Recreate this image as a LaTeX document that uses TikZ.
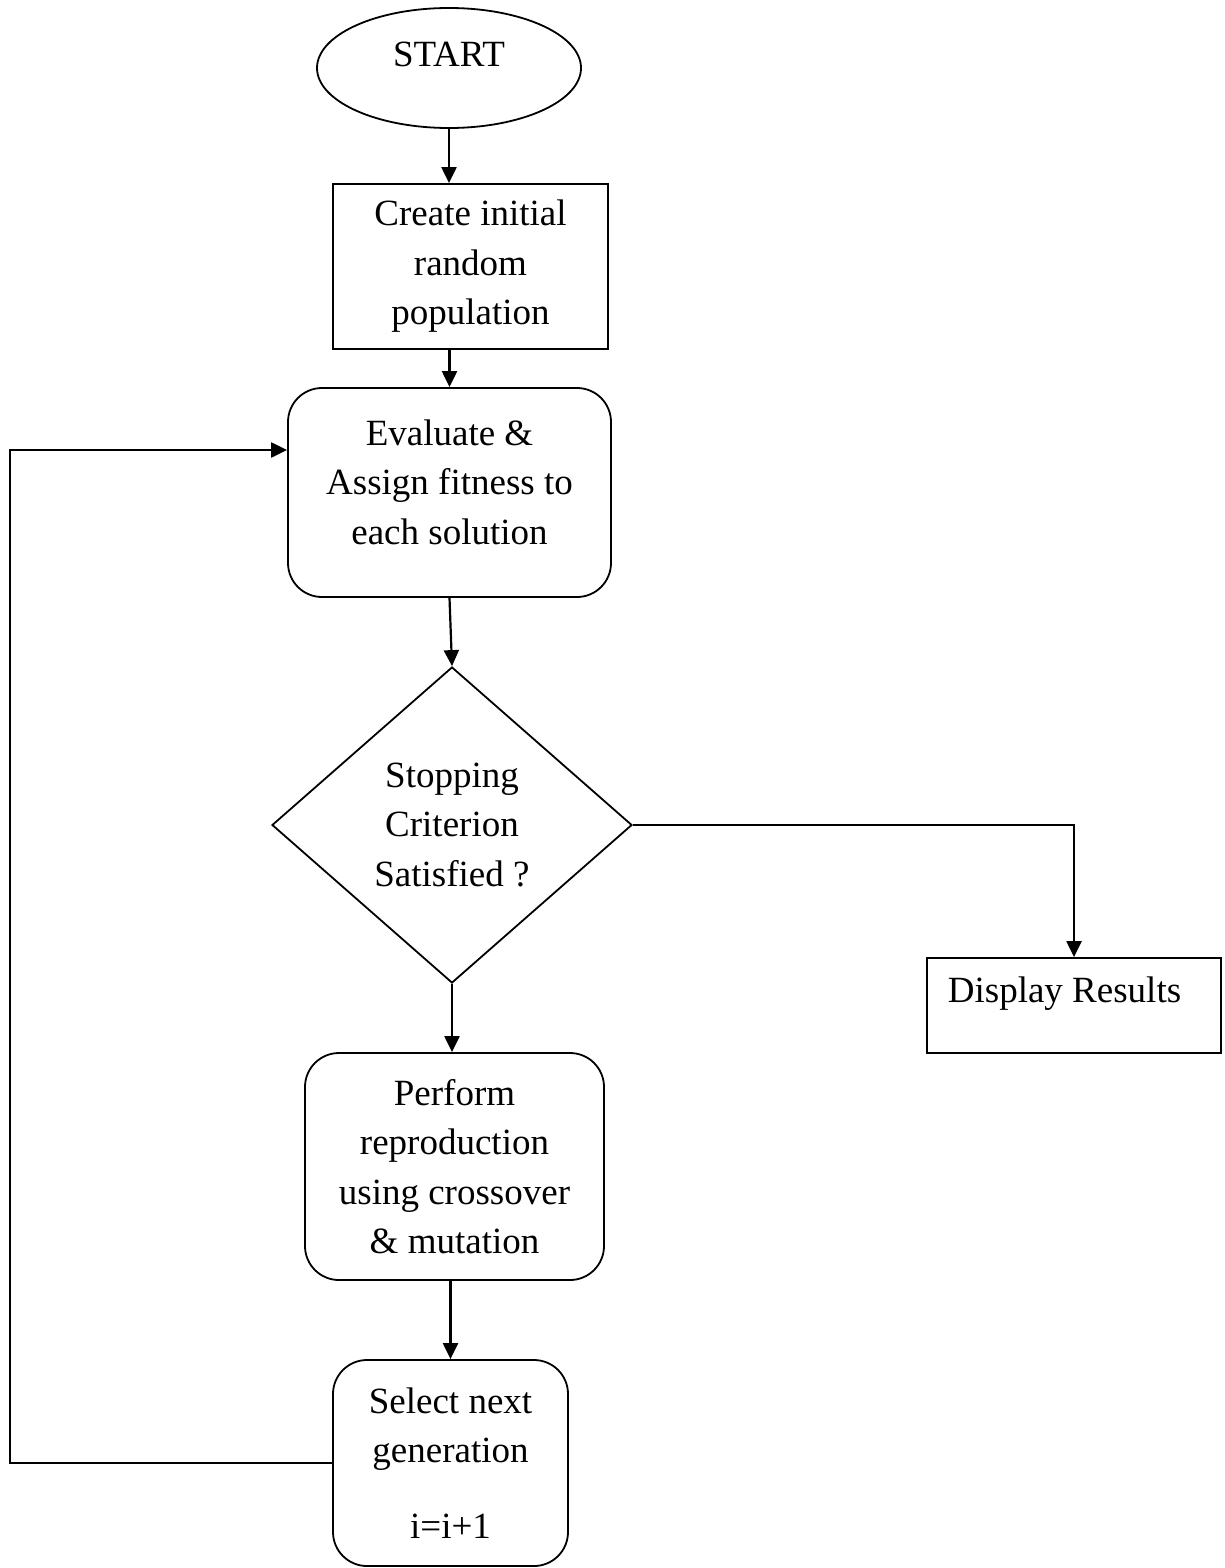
\documentclass[tikz,border=0pt]{standalone}
\usepackage{fontspec}
\setmainfont{Liberation Serif}
\usetikzlibrary{shapes.geometric,arrows.meta}

\tikzset{
  box/.style={draw,line width=0.9pt,align=center,inner sep=0pt},
  rbox/.style={box,rounded corners=17pt},
  arr/.style={line width=1.1pt,-{Triangle[length=8pt,width=7.5pt]}}
}

\begin{document}
\begin{tikzpicture}[x=0.5pt,y=-0.5pt,font=\fontsize{18.5}{24.75}\selectfont]
  \useasboundingbox (0,0) rectangle (1225,1568);

  \node[draw,line width=0.9pt,ellipse,minimum width=132pt,minimum height=60pt,inner sep=0pt,
        text height=12pt,text depth=13pt] (start) at (449,68) {START};
  \node[box,minimum width=137.5pt,minimum height=82.5pt] (create) at (470.5,266.5) {Create initial\\ random\\ population};
  \node[draw,line width=0.9pt,rounded corners=17pt,inner sep=0pt,minimum width=161.5pt,minimum height=104.5pt,
        text height=20pt,text depth=19pt] (eval) at (449.5,492.5)
        {\begin{tabular}{@{}c@{}}Evaluate \&\\ Assign fitness to\\ each solution\end{tabular}};
  \node[box,diamond,minimum width=180pt,minimum height=158pt] (stop) at (452,825) {Stopping\\ Criterion\\ Satisfied ?};
  \node[draw,line width=0.9pt,inner sep=0pt,minimum width=147pt,minimum height=47.5pt,
        text height=13pt,text depth=16pt] (disp) at (1074,1005.5) {Display Results\kern9.5pt};
  \node[rbox,minimum width=149.5pt,minimum height=113.5pt] (perf) at (454.5,1166.5) {Perform\\ reproduction\\ using crossover\\ \& mutation};
  \node[rbox,minimum width=117.5pt,minimum height=103pt] (sel) at (450.5,1463) {Select next\\ generation\\[13pt] i=i+1};

  \coordinate (loop) at (10,450);

  \draw[arr] (start) -- (start |- create.north);
  \draw[arr] (eval.north |- create.south) -- (eval.north);
  \draw[arr] (eval.south) -- (stop.north);
  \draw[arr] (stop.east) -| (disp.north);
  \draw[arr] (stop.south) -- (stop.south |- perf.north);
  \draw[arr] (sel.north |- perf.south) -- (sel.north);
  \draw[arr] (sel.west) -| (loop) -- (loop -| eval.west);
\end{tikzpicture}
\end{document}
